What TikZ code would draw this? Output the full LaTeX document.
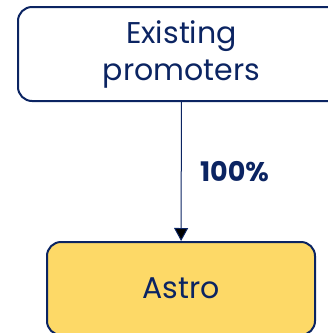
\documentclass[tikz,border=0pt]{standalone}
\usepackage{fontspec}
\setmainfont{Poppins}
\usetikzlibrary{arrows.meta}
\definecolor{navy}{HTML}{0B2462}
\definecolor{gold}{HTML}{FDD967}

\begin{document}
\begin{tikzpicture}[x=1pt,y=-1pt,->,>={Triangle[length=13pt,width=14pt]},box node/.style={draw=navy,line width=2pt,rounded corners=14pt,minimum height=94pt,align=center,text=navy,font=\fontsize{30}{37}\selectfont}]
  \useasboundingbox (0,0) rectangle (328,333);
  \node[box node,minimum width=327pt] (promoters) at (181.5,54) {Existing\\promoters};
  \node[box node,fill=gold,minimum width=268pt,minimum height=93pt] (astro) at (181,288.5) {Astro};

\path[draw=navy,line width=1pt,every node/.style={font=\fontsize{27}{30}\selectfont\bfseries,text=navy}]
  (promoters) edge node[right=15pt] {100\%} (astro)
;
\end{tikzpicture}
\end{document}
